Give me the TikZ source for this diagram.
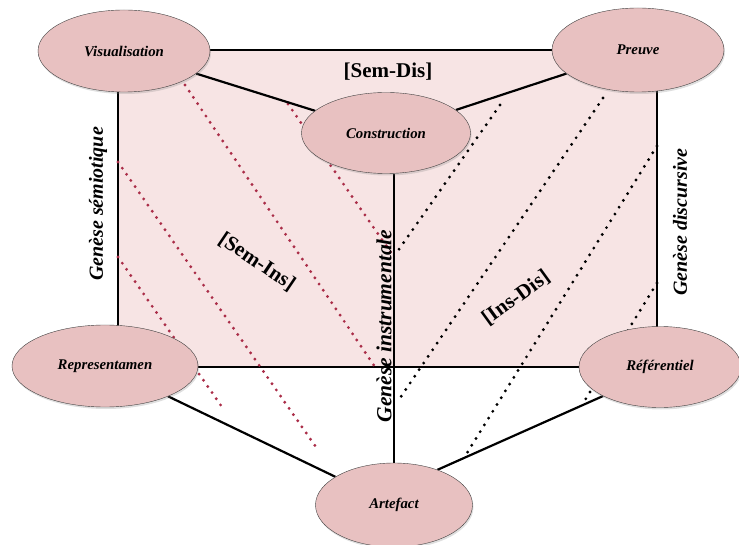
\documentclass[tikz,border=0pt]{standalone}
\usepackage{fontspec}
\setmainfont{Liberation Serif}
\usetikzlibrary{shapes.geometric,backgrounds,shadows}
\definecolor{poleFill}{RGB}{232,193,193}
\definecolor{zoneFill}{RGB}{247,228,228}
\definecolor{dotRed}{RGB}{170,45,72}
\tikzset{
  pole/.style={ellipse,draw=black!75,fill=poleFill,inner sep=0pt,
    drop shadow={shadow xshift=1pt,shadow yshift=-2pt,opacity=0.25},
    font=\bfseries\itshape\fontsize{14.8}{16}\selectfont},
  lien/.style={line width=2.2pt},
  genese/.style={rotate=90,font=\bfseries\itshape\fontsize{20}{22}\selectfont},
  zone/.style={font=\bfseries\fontsize{21}{23}\selectfont},
  pointsR/.style={dotRed,line width=3.2pt,dash pattern=on 0pt off 7.5pt,line cap=round},
  pointsN/.style={black,line width=3.2pt,dash pattern=on 0pt off 8pt,line cap=round}
}
\begin{document}
\begin{tikzpicture}[x=1pt,y=-1pt]
\useasboundingbox (0,0) rectangle (739,545);
% les six poles
\node[pole,minimum width=172pt,minimum height=82pt] (vis) at (124,51) {Visualisation};
\node[pole,minimum width=172pt,minimum height=84pt] (pre) at (638,50) {Preuve};
\node[pole,minimum width=169pt,minimum height=81pt] (con) at (386,133) {Construction};
\node[pole,minimum width=186pt,minimum height=82pt] (rep) at (105,366) {Representamen};
\node[pole,minimum width=162pt,minimum height=81pt] (ref) at (660,367) {Référentiel};
\node[pole,minimum width=157pt,minimum height=84pt] (art) at (394,505) {Artefact};
% plans et geneses
\node[zone] (semdis) at (388,72) {[Sem-Dis]};
\node[zone,rotate=-34] (semins) at (257,262) {[Sem-Ins]};
\node[zone,rotate=36] (insdis) at (516,298) {[Ins-Dis]};
\node[genese] (gsem) at (98,204) {Genèse sémiotique};
\node[genese,font=\bfseries\itshape\fontsize{21.5}{23}\selectfont] (gins) at (384,326) {Genèse instrumentale};
\node[genese] (gdis) at (680,222) {Genèse discursive};
\begin{pgfonlayer}{background}
\draw[fill=zoneFill,line width=1.6pt] (118,50) rectangle (657,367);
\foreach \x/\y/\u/\v in {288/104/394/257,185/85/375/367,118/162/318/450,118/257/222/407}
  \draw[pointsR] (\x,\y) -- (\u,\v);
\foreach \x/\y/\u/\v in {500/105/395/255,603/98/400/398,657/146/467/453,657/283/582/405}
  \draw[pointsN] (\x,\y) -- (\u,\v);
\draw[lien] (vis) -- (con);
\draw[lien] (pre) -- (con);
\draw[lien] (con.south -| art.north) -- (art.north);
\draw[lien] (rep) -- (art);
\draw[lien] (ref.207) -- (art.39);
\end{pgfonlayer}
\end{tikzpicture}
\end{document}
